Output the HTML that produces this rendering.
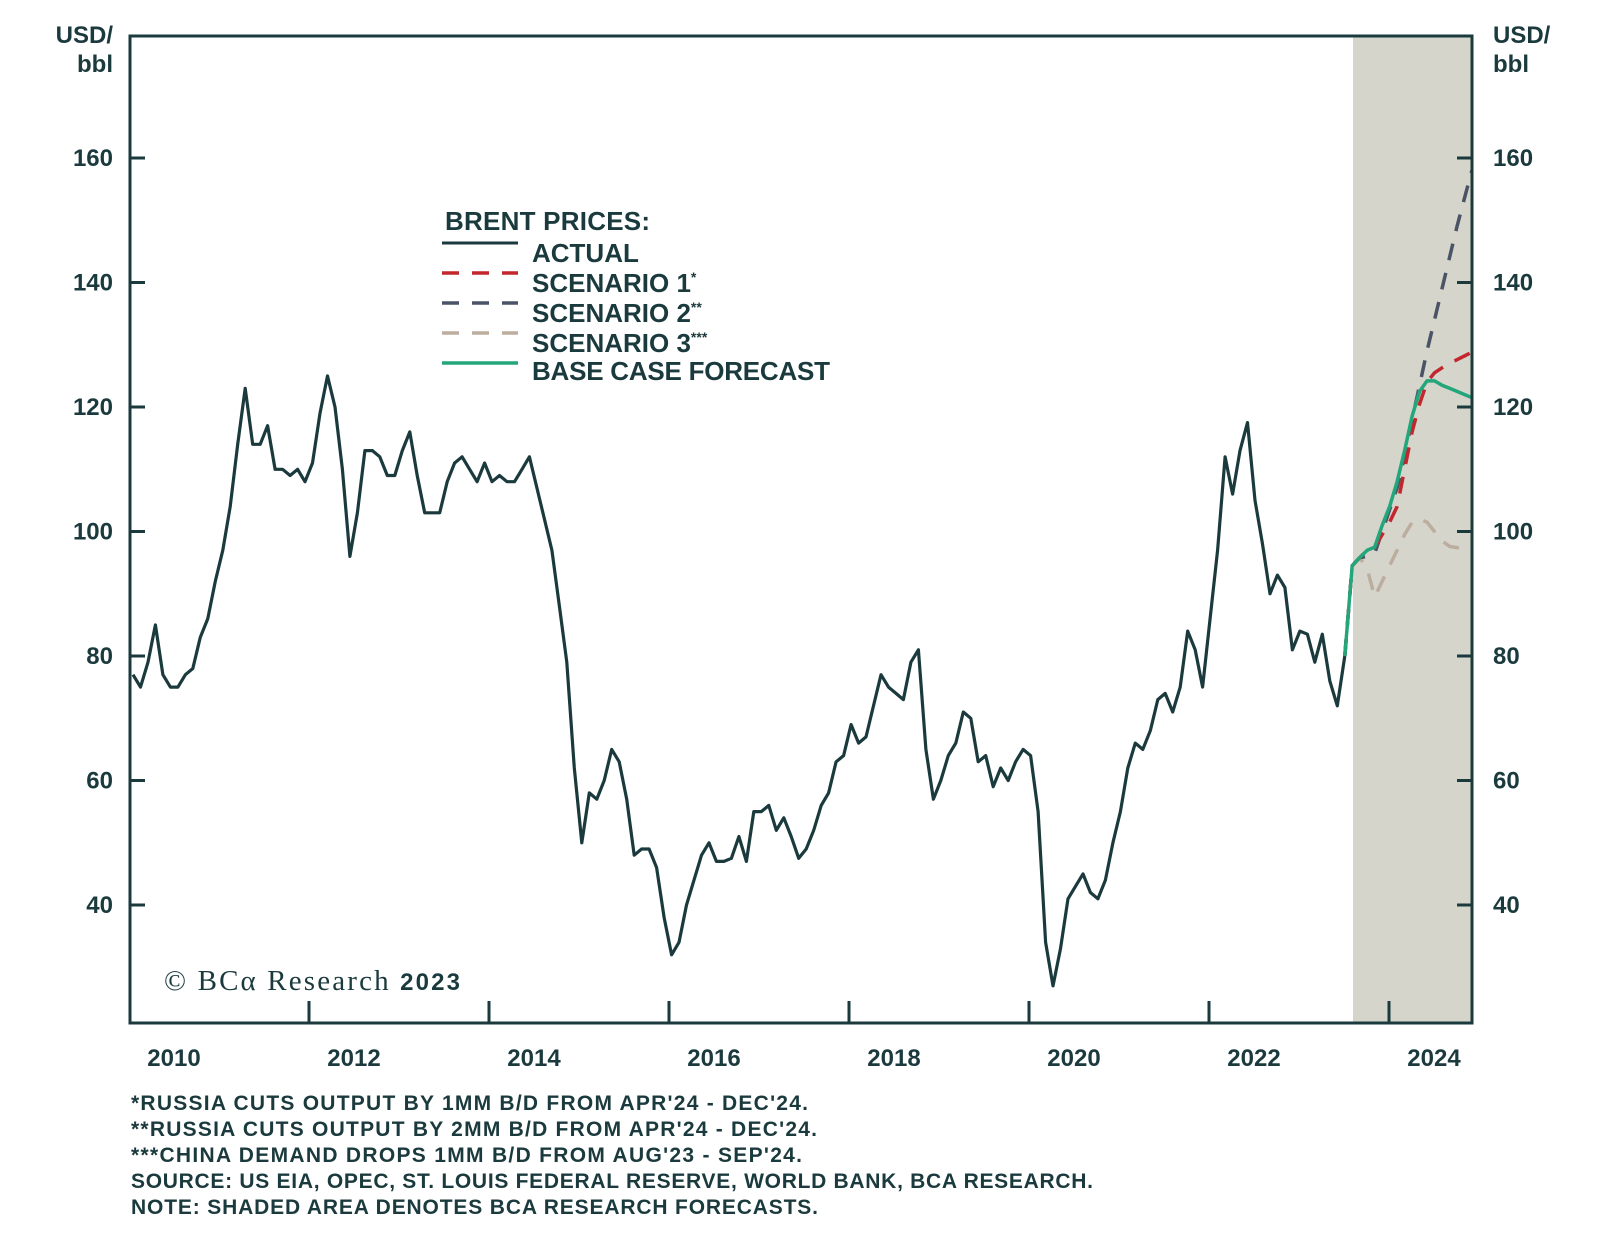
<!DOCTYPE html>
<html><head><meta charset="utf-8"><style>
html,body{margin:0;padding:0;background:#fff;}
svg{display:block;font-family:"Liberation Sans",sans-serif;}
</style></head><body>
<svg id="chart" width="1600" height="1242" viewBox="0 0 1600 1242">
<rect x="1353" y="36" width="119" height="987" fill="#d6d5cc"/>
<g id="ticks"></g>
<g id="series"></g>
<rect x="130" y="36" width="1342" height="987" fill="none" stroke="#1b3a3d" stroke-width="3"/>
<g fill="#1b3a3d" font-weight="bold" font-size="24">
<text x="113" y="43" text-anchor="end">USD/</text>
<text x="113" y="72" text-anchor="end">bbl</text>
<text x="1493" y="43">USD/</text>
<text x="1493" y="72">bbl</text>
</g>
<g fill="#1b3a3d" font-weight="bold" font-size="26">
<text x="445" y="230" textLength="205">BRENT PRICES:</text>
<line x1="442" y1="243" x2="518" y2="243" stroke="#1b3a3d" stroke-width="3"/>
<text x="532" y="262">ACTUAL</text>
<line x1="442" y1="273" x2="518" y2="273" stroke="#c1272d" stroke-width="3.5" stroke-dasharray="17,13"/>
<text x="532" y="292">SCENARIO 1<tspan font-size="14" dy="-10">*</tspan></text>
<line x1="442" y1="303" x2="518" y2="303" stroke="#4a5466" stroke-width="3.5" stroke-dasharray="17,13"/>
<text x="532" y="322">SCENARIO 2<tspan font-size="14" dy="-10">**</tspan></text>
<line x1="442" y1="333" x2="518" y2="333" stroke="#bcae9f" stroke-width="3.5" stroke-dasharray="17,13"/>
<text x="532" y="352">SCENARIO 3<tspan font-size="14" dy="-10">***</tspan></text>
<line x1="442" y1="363" x2="518" y2="363" stroke="#22a67a" stroke-width="3.5"/>
<text x="532" y="380" textLength="298">BASE CASE FORECAST</text>
</g>
<text x="164" y="990" font-family="'Liberation Serif',serif" font-size="29" fill="#1b3a3d" textLength="296">© BCα Research <tspan font-family="'Liberation Sans',sans-serif" font-weight="bold" font-size="24">2023</tspan></text>
<g fill="#1b3a3d" font-size="21" font-weight="bold">
<text x="131" y="1110" textLength="677">*RUSSIA CUTS OUTPUT BY 1MM B/D FROM APR'24 - DEC'24.</text>
<text x="131" y="1136" textLength="686">**RUSSIA CUTS OUTPUT BY 2MM B/D FROM APR'24 - DEC'24.</text>
<text x="131" y="1162" textLength="671">***CHINA DEMAND DROPS 1MM B/D FROM AUG'23 - SEP'24.</text>
<text x="131" y="1188" textLength="962">SOURCE: US EIA, OPEC, ST. LOUIS FEDERAL RESERVE, WORLD BANK, BCA RESEARCH.</text>
<text x="131" y="1214" textLength="687">NOTE: SHADED AREA DENOTES BCA RESEARCH FORECASTS.</text>
</g>
</svg>
<script>
const yTicks = [40, 60, 80, 100, 120, 140, 160];
const xYears = [2010, 2012, 2014, 2016, 2018, 2020, 2022, 2024];
const actual = [
77,75,79,85,77,75,75,77,78,83,86,92,
97,104,114,123,114,114,117,110,110,109,110,108,
111,119,125,120,110,96,103,113,113,112,109,109,
113,116,109,103,103,103,108,111,112,110,108,111,
108,109,108,108,110,112,107,102,97,88,79,62,
50,58,57,60,65,63,57,48,49,49,46,38,
32,34,40,44,48,50,47,47,47.5,51,47,55,
55,56,52,54,51,47.5,49,52,56,58,63,64,
69,66,67,72,77,75,74,73,79,81,65,57,
60,64,66,71,70,63,64,59,62,60,63,65,
64,55,34,27,33,41,43,45,42,41,44,50,
55,62,66,65,68,73,74,71,75,84,81,75,
86,97,112,106,113,117.5,105,98,90,93,91,81,
84,83.5,79,83.5,76,72,80
];
const baseCase = [80,94.5,95.8,97,97.5,101,104,108,113,118.5,122.5,124.2,124.2,123.5,123,122.5,122,121.5];
const scenario1 = [80,94.5,95.8,97,97.5,99.5,101.5,104,110,116,120.5,124,125.5,126.3,127,127.6,128.2,128.8];
const scenario2 = [80,94.5,95.8,96,96.5,100,103.5,107,112,118,123.5,129,134,139,144,149,153.5,158];
const scenario3 = [80,94.5,95.8,94,89.5,92,94.5,97,99.5,101.5,102,101.5,100,98.5,97.6,97.4,97.6,97.8];

const NS = "http://www.w3.org/2000/svg";
function yScale(v){ return 158 + (160 - v) * 6.225; }
function xMonth(i){ return 133 + i * 7.48; }
function xYear(yr){ return 129 + (yr - 2010) * 90; }
const forecastStart = actual.length - 1;

const tg = document.getElementById('ticks');
const sg = document.getElementById('series');
function mk(tag, attrs, parent){
  const e = document.createElementNS(NS, tag);
  for (const k in attrs) e.setAttribute(k, attrs[k]);
  parent.appendChild(e);
  return e;
}
yTicks.forEach(v => {
  const y = yScale(v);
  const l = mk('line', {x1:130, x2:145, y1:y, y2:y, stroke:'#1b3a3d', 'stroke-width':3}, tg);
  
  
  const r = mk('line', {x1:1457, x2:1472, y1:y, y2:y, stroke:'#1b3a3d', 'stroke-width':3}, tg);
  
  
  const t = mk('text', {x:113, y:y+8, 'text-anchor':'end', fill:'#1b3a3d', 'font-size':24, 'font-weight':'bold'}, tg);
  t.textContent = v;
  
  
  const t2 = mk('text', {x:1493, y:y+8, fill:'#1b3a3d', 'font-size':24, 'font-weight':'bold'}, tg);
  t2.textContent = v;
  
  
});
xYears.forEach(yr => {
  const x = xYear(yr);
  if (yr > 2010) {
    const l = mk('line', {x1:x, x2:x, y1:1001, y2:1023, stroke:'#1b3a3d', 'stroke-width':3}, tg);
    
    
  }
  const t = mk('text', {x:x+45, y:1066, 'text-anchor':'middle', fill:'#1b3a3d', 'font-size':24, 'font-weight':'bold'}, tg);
  t.textContent = yr;
  
  
});
function path(vals, offset){
  return vals.map((v,i) => (i?'L':'M') + xMonth(i+offset).toFixed(1) + ',' + yScale(v).toFixed(1)).join(' ');
}
const a = mk('path', {d:path(actual,0), fill:'none', stroke:'#1b3a3d', 'stroke-width':3.2, 'stroke-linejoin':'round'}, sg);


const s3 = mk('path', {d:path(scenario3,forecastStart), fill:'none', stroke:'#bcae9f', 'stroke-width':3.5, 'stroke-dasharray':'17,13'}, sg);


const s2 = mk('path', {d:path(scenario2,forecastStart), fill:'none', stroke:'#4a5466', 'stroke-width':3.5, 'stroke-dasharray':'17,13'}, sg);


const s1 = mk('path', {d:path(scenario1,forecastStart), fill:'none', stroke:'#c1272d', 'stroke-width':3.5, 'stroke-dasharray':'17,13'}, sg);


const b = mk('path', {d:path(baseCase,forecastStart), fill:'none', stroke:'#22a67a', 'stroke-width':3.5, 'stroke-linejoin':'round'}, sg);


</script>
</body></html>
